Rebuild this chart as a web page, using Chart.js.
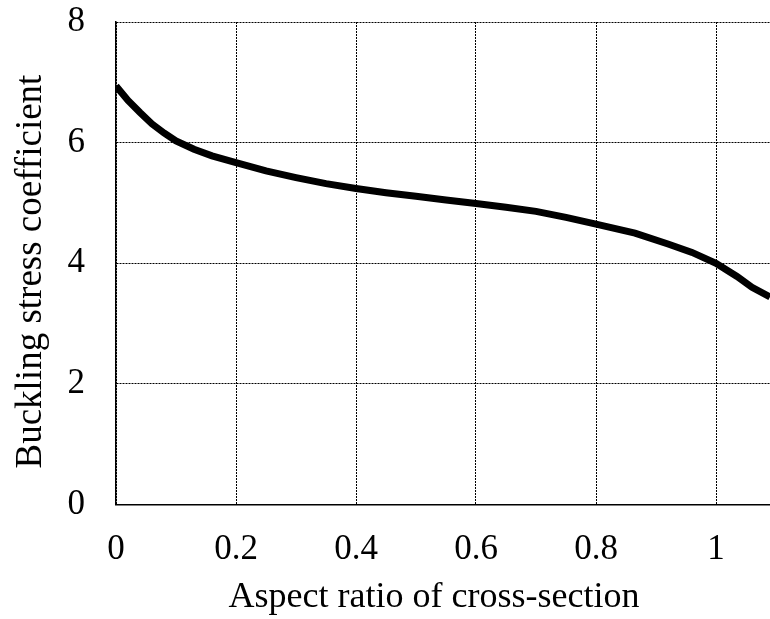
<!DOCTYPE html>
<html>
<head>
<meta charset="utf-8">
<script src="https://cdn.jsdelivr.net/npm/chart.js@4/dist/chart.umd.min.js"></script>
<style>
  html, body { margin: 0; padding: 0; background: #fff; }
  #chart { display: block; }
</style>
</head>
<body>
<canvas id="chart" width="770" height="619"></canvas>
<script>
/* data */
const aspectRatio = [0, 0.02, 0.04, 0.06, 0.08, 0.1, 0.13, 0.16, 0.2, 0.25, 0.3, 0.35, 0.4, 0.45,
  0.5, 0.55, 0.6, 0.65, 0.7, 0.75, 0.8, 0.865, 0.92, 0.96, 1.0, 1.035, 1.06, 1.09];
const stressCoef = [6.94, 6.70, 6.50, 6.31, 6.16, 6.03, 5.89, 5.78, 5.67, 5.53, 5.42, 5.32, 5.24, 5.17,
  5.11, 5.05, 4.99, 4.93, 4.86, 4.76, 4.65, 4.50, 4.32, 4.18, 4.0, 3.78, 3.60, 3.44];
const xTicks = [0, 0.2, 0.4, 0.6, 0.8, 1];
const yTicks = [0, 2, 4, 6, 8];

// trailing spaces nudge the titles off the plot centre, as in the original
const xTitle = "Aspect ratio of cross-section\u00a0\u00a0";
const yTitle = "Buckling stress coefficient\u00a0\u2009";

const serif = "'Liberation Serif', 'Times New Roman', serif";

const points = aspectRatio.map(function (x, i) {
  return { x: x, y: stressCoef[i] };
});

const ctx = document.getElementById("chart").getContext("2d");
const chart = new Chart(ctx, {
  type: "line",
  data: {
    datasets: [{
      data: points,
      borderColor: "#000",
      borderWidth: 7,
      pointRadius: 0,
      tension: 0,
      fill: false
    }]
  },
  options: {
    responsive: false,
    animation: false,
    layout: { padding: 0 },
    plugins: { legend: { display: false }, tooltip: { enabled: false } },
    scales: {
      x: {
        type: "linear",
        min: 0,
        max: 1.09,
        afterBuildTicks: function (scale) {
          scale.ticks = xTicks.map(function (v) { return { value: v }; });
        },
        // fixed box so the plot area lines up with the original
        afterFit: function (scale) {
          scale.height = 114.5;
          scale.paddingLeft = 0;
          scale.paddingRight = 0;
        },
        ticks: {
          color: "#000",
          padding: 24,
          maxRotation: 0,
          font: { family: serif, size: 35 },
          callback: function (v) { return String(v); }
        },
        grid: { color: "#000", lineWidth: 1, drawTicks: false },
        border: { display: true, color: "#000", width: 1.5, dash: [2, 1] },
        title: {
          display: true,
          text: xTitle,
          color: "#000",
          font: { family: serif, size: 36 },
          padding: { top: 0, bottom: 0 }
        }
      },
      y: {
        min: 0,
        max: 8,
        afterBuildTicks: function (scale) {
          scale.ticks = yTicks.map(function (v) { return { value: v }; });
        },
        afterFit: function (scale) {
          scale.width = 116;
          scale.paddingTop = 22;
          scale.paddingBottom = 0;
        },
        ticks: {
          color: "#000",
          padding: 31,
          font: { family: serif, size: 35 }
        },
        grid: { color: "#000", lineWidth: 1, drawTicks: false },
        border: { display: true, color: "#000", width: 1.5, dash: [2, 1] },
        title: {
          display: true,
          text: yTitle,
          color: "#000",
          font: { family: serif, size: 37 },
          padding: { top: 9, bottom: 0 }
        }
      }
    }
  }
});
</script>
</body>
</html>
